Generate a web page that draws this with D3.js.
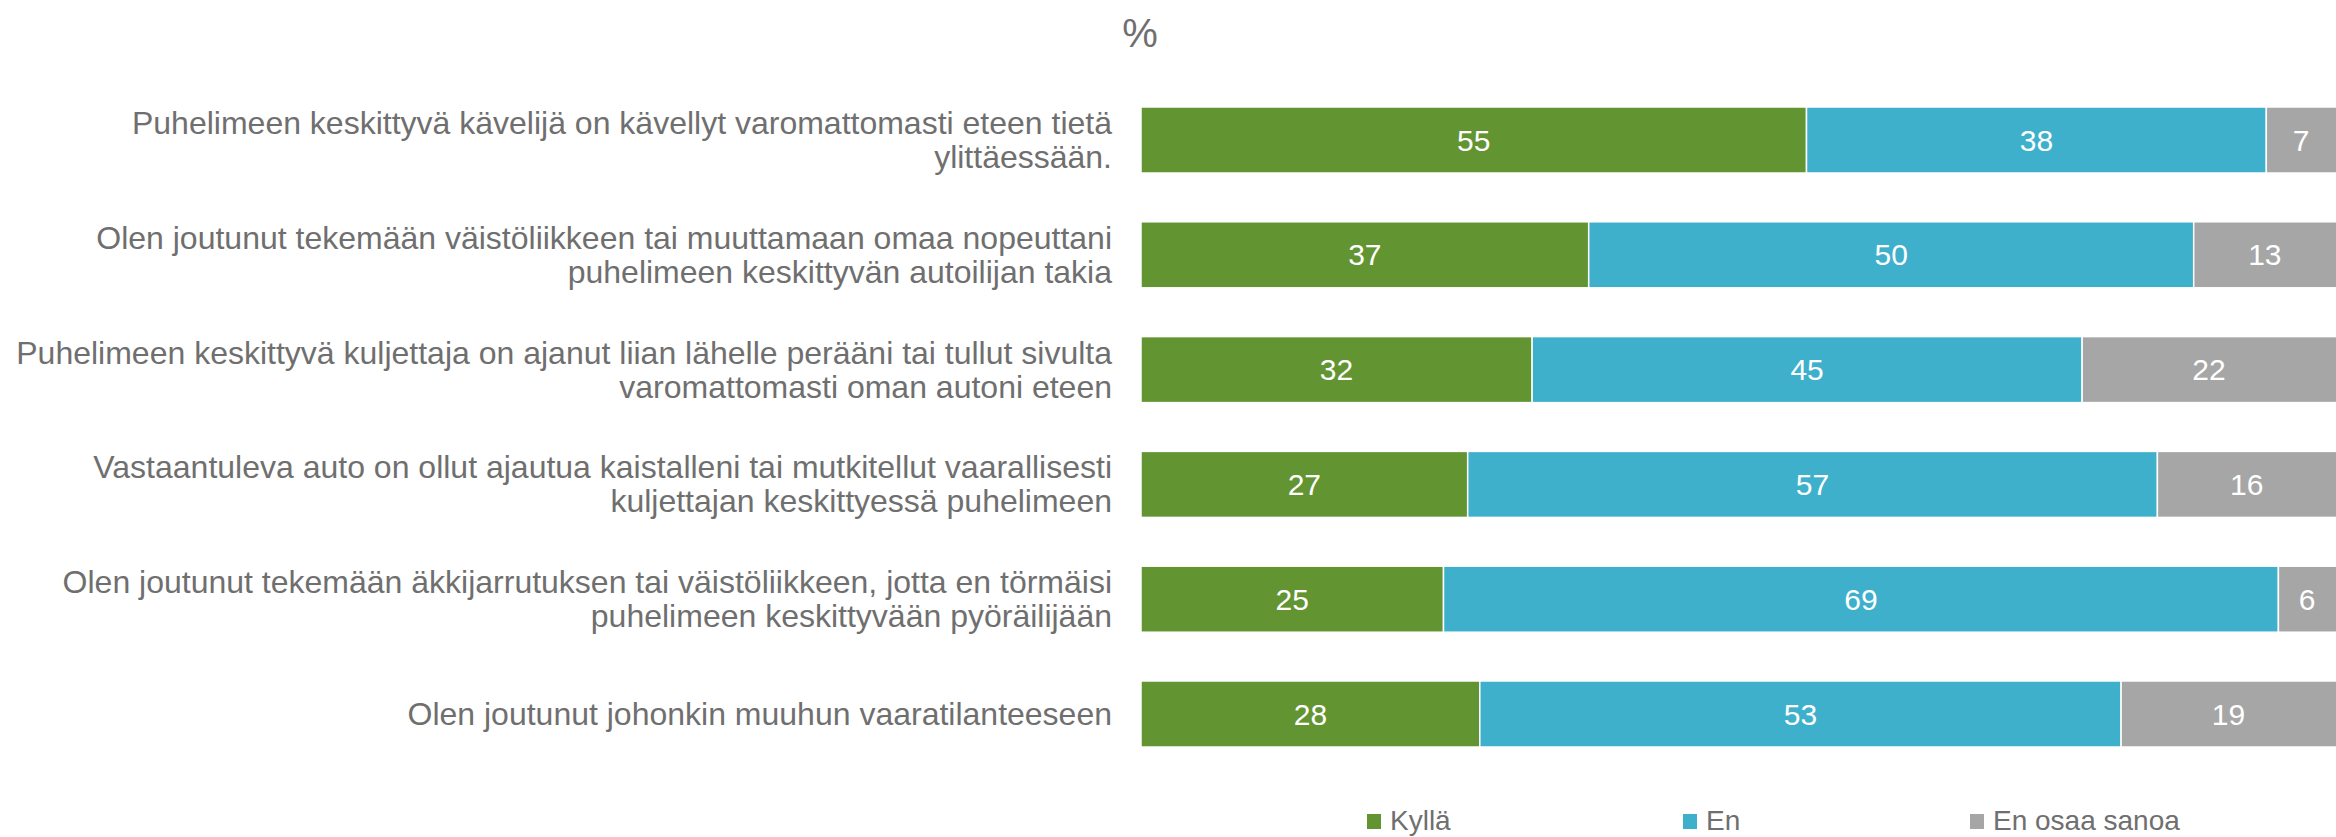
<!DOCTYPE html>
<html>
<head>
<meta charset="utf-8">
<script src="https://cdn.jsdelivr.net/npm/d3@7"></script>
<style>
  html, body { margin: 0; padding: 0; background: #fff; }
  svg { display: block; font-family: "Liberation Sans", Arial, sans-serif; }
</style>
</head>
<body>
<div id="chart"></div>
<script>
// categories (line breaks as in the original chart)
const categories = [
  "Puhelimeen keskittyvä kävelijä on kävellyt varomattomasti eteen tietä\nylittäessään.",
  "Olen joutunut tekemään väistöliikkeen tai muuttamaan omaa nopeuttani\npuhelimeen keskittyvän autoilijan takia",
  "Puhelimeen keskittyvä kuljettaja on ajanut liian lähelle perääni tai tullut sivulta\nvaromattomasti oman autoni eteen",
  "Vastaantuleva auto on ollut ajautua kaistalleni tai mutkitellut vaarallisesti\nkuljettajan keskittyessä puhelimeen",
  "Olen joutunut tekemään äkkijarrutuksen tai väistöliikkeen, jotta en törmäisi\npuhelimeen keskittyvään pyöräilijään",
  "Olen joutunut johonkin muuhun vaaratilanteeseen"
];
const seriesNames = ["Kyllä", "En", "En osaa sanoa"];
const kylla = [55, 37, 32, 27, 25, 28];
const en = [38, 50, 45, 57, 69, 53];
const eos = [7, 13, 22, 16, 6, 19];
const colors = ["#629431", "#3eb0cc", "#a6a6a6"];
const unitLabel = "%";

const W = 2336, H = 837;
const svg = d3.select("#chart").append("svg")
  .attr("width", W)
  .attr("height", H);

const rows = categories.map((c, i) => ({
  cat: c,
  "Kyllä": kylla[i],
  "En": en[i],
  "En osaa sanoa": eos[i]
}));

// 100% stacked bar
const stack = d3.stack()
  .keys(seriesNames)
  .offset(d3.stackOffsetExpand);
const stacked = stack(rows);

const x = d3.scaleLinear()
  .domain([0, 1])
  .range([1141, 2351]);

const y = d3.scaleBand()
  .domain(categories)
  .range([82.6, 771.4])
  .paddingInner(0.425)
  .paddingOuter(0.2125);

const color = d3.scaleOrdinal().domain(seriesNames).range(colors);

// title
svg.append("text")
  .attr("x", 1140)
  .attr("y", 47)
  .attr("text-anchor", "middle")
  .style("font-size", "40px")
  .style("fill", "#6f6f6f")
  .text(unitLabel);

// bars
const groups = svg.selectAll("g.series")
  .data(stacked)
  .join("g")
  .attr("class", "series")
  .attr("fill", d => color(d.key));

groups.selectAll("rect")
  .data(d => d)
  .join("rect")
  .attr("x", d => x(d[0]))
  .attr("y", d => y(d.data.cat))
  .attr("width", d => x(d[1]) - x(d[0]))
  .attr("height", y.bandwidth())
  .attr("stroke", "#fff")
  .attr("stroke-width", 1.5);

// value labels
stacked.forEach(s => {
  svg.append("g").selectAll("text")
    .data(s)
    .join("text")
    .attr("x", d => (x(d[0]) + Math.min(x(d[1]), W)) / 2)
    .attr("y", d => y(d.data.cat) + y.bandwidth() / 2 + 10.5)
    .attr("text-anchor", "middle")
    .style("font-size", "30px")
    .style("fill", "#fff")
    .text(d => d.data[s.key]);
});

// category labels
const lineH = 34;
categories.forEach(c => {
  const lines = c.split("\n");
  const cy = y(c) + y.bandwidth() / 2;
  const t = svg.append("text")
    .attr("text-anchor", "end")
    .style("font-size", "32px")
    .style("fill", "#6f6f6f");
  lines.forEach((ln, j) => {
    t.append("tspan")
      .attr("x", 1112)
      .attr("y", cy + 11 - (lines.length - 1) * lineH / 2 + j * lineH)
      .text(ln);
  });
});

// legend
const legendX = [1367, 1683, 1970];
const legend = svg.append("g");
seriesNames.forEach((name, i) => {
  legend.append("rect")
    .attr("x", legendX[i])
    .attr("y", 814)
    .attr("width", 14)
    .attr("height", 15)
    .attr("fill", color(name));
  legend.append("text")
    .attr("x", legendX[i] + 23)
    .attr("y", 830)
    .style("font-size", "28px")
    .style("fill", "#6f6f6f")
    .text(name);
});
</script>
</body>
</html>
